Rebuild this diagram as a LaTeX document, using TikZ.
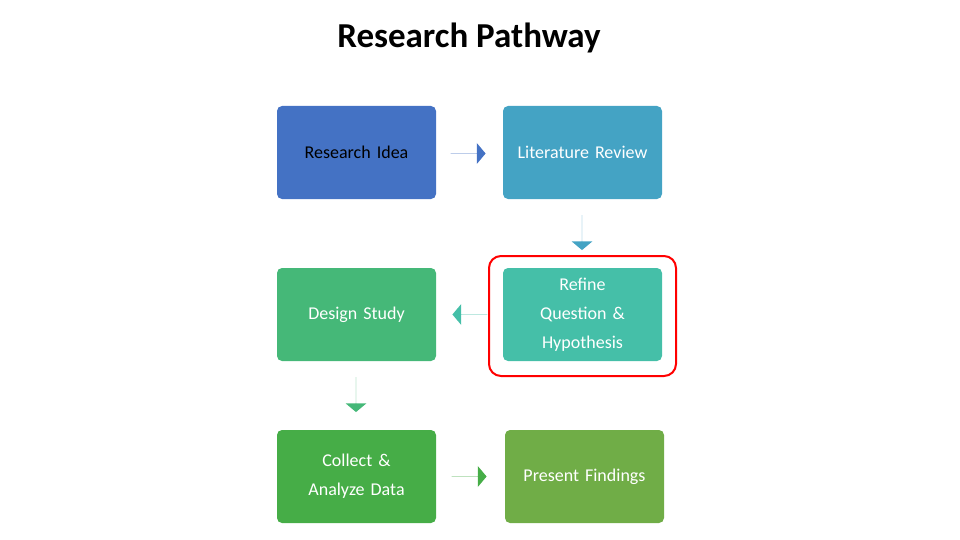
\documentclass[tikz,border=0pt]{standalone}
\usepackage{fontspec}
\setmainfont{Carlito}
\usetikzlibrary{shapes.arrows}
\definecolor{c1}{HTML}{4472C4}
\definecolor{c2}{HTML}{44A3C4}
\definecolor{c3}{HTML}{45BFA8}
\definecolor{c4}{HTML}{45B878}
\definecolor{c5}{HTML}{46AD47}
\definecolor{c6}{HTML}{70AD47}
\begin{document}
\begin{tikzpicture}[x=1pt,y=-1pt,
 box/.style={rounded corners=5pt,minimum width=159pt,minimum height=93pt,text width=150pt,align=center,text=white,font=\fontsize{18}{29}\selectfont,inner sep=0pt},
 arr/.style={single arrow,single arrow head extend=10pt,minimum height=35pt,minimum width=21pt,inner sep=0pt,single arrow tip angle=100}]
\useasboundingbox (0,0) rectangle (960,540);
\node[font=\fontsize{35}{40}\selectfont\bfseries] (t) at (469,38) {Research Pathway};
\node[box,fill=c1,text=black] (b1) at (356.5,152.5) {Research Idea};
\node[box,fill=c2] (b2) at (582.5,152.5) {Literature Review};
\node[box,fill=c3] (b3) at (582.5,314.5) {Refine\\Question \&\\Hypothesis};
\node[box,fill=c4] (b4) at (356.5,314.5) {Design Study};
\node[box,fill=c5] (b5) at (356.5,476.5) {Collect \&\\Analyze Data};
\node[box,fill=c6] (b6) at (584.5,476.5) {Present Findings};
\node[draw=red,line width=2pt,rounded corners=12pt,minimum width=187pt,minimum height=120pt] (h) at (582.5,316) {};
\node[arr,fill=c1] (a1) at (468,153.5) {};
\node[arr,fill=c2,shape border rotate=270] (a2) at (582,232.5) {};
\node[arr,fill=c3,shape border rotate=180] (a3) at (470,314.5) {};
\node[arr,fill=c4,shape border rotate=270] (a4) at (356,394.5) {};
\node[arr,fill=c5] (a5) at (469,476.5) {};
\end{tikzpicture}
\end{document}
